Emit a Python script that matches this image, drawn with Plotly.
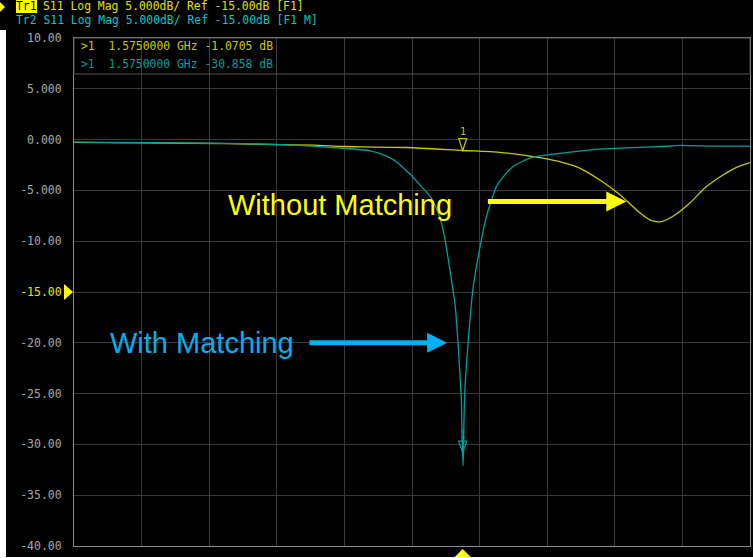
import plotly.graph_objects as go

# S11 sweep, 1-2 GHz, in dB
freq_without = [1.000, 1.100, 1.226, 1.300, 1.354, 1.398, 1.428, 1.493, 1.575,
                1.629, 1.689, 1.720, 1.748, 1.778, 1.808, 1.837, 1.852, 1.867,
                1.886, 1.911, 1.933, 1.956, 1.978, 2.000]
s11_without = [-0.27, -0.33, -0.40, -0.50, -0.55, -0.68, -0.72, -0.78, -1.0705,
               -1.25, -1.78, -2.20, -2.80, -3.98, -5.45, -7.20, -7.90, -8.10,
               -7.55, -6.25, -4.76, -3.65, -2.80, -2.27]

freq_with = [1.000, 1.100, 1.226, 1.300, 1.339, 1.398, 1.438, 1.453, 1.466,
             1.4775, 1.489, 1.501, 1.515, 1.527, 1.535, 1.541, 1.549, 1.556,
             1.564, 1.568, 1.573, 1.574, 1.575, 1.5757, 1.5765, 1.578, 1.583,
             1.590, 1.598, 1.610, 1.625, 1.637, 1.649, 1.675, 1.690, 1.719,
             1.750, 1.778, 1.837, 1.870, 1.896, 1.926, 1.960, 2.000]
s11_with = [-0.25, -0.30, -0.38, -0.48, -0.60, -0.85, -1.10, -1.38, -1.75,
            -2.20, -2.90, -3.65, -4.70, -5.60, -6.60, -7.60, -9.90, -12.8,
            -16.4, -20.0, -25.5, -29.0, -30.858, -32.1, -29.0, -25.0, -20.0,
            -14.8, -11.5, -7.60, -4.60, -3.50, -2.67, -1.80, -1.60, -1.35,
            -1.10, -0.93, -0.76, -0.68, -0.56, -0.62, -0.65, -0.65]

# active marker 1
marker_freq = 1.575
marker_without = -1.0705
marker_with = -30.858

# y scale: 5 dB/div, ref -15 dB
y_ticks = [10, 5, 0, -5, -10, -15, -20, -25, -30, -35, -40]
y_tick_labels = ["10.00", "5.000", "0.000", "-5.000", "-10.00", "-15.00",
                 "-20.00", "-25.00", "-30.00", "-35.00", "-40.00"]
ref_level = -15

trace_tags = ["Tr1", "Tr2"]
header_text = "S11 Log Mag 5.000dB/ Ref -15.00dB"
header_suffix = ["[F1]", "[F1 M]"]
marker_rows = [">1  1.5750000 GHz -1.0705 dB",
               ">1  1.5750000 GHz -30.858 dB"]

YEL = "#C9C900"
CYN = "#009E9E"
MONO = "DejaVu Sans Mono"
FS = 11.4
CW = 0.602 * FS  # monospace advance

W, H = 753, 558
L, R, T, B = 74, 3, 38, 12
PW, PH = W - L - R, H - T - B


def px(x):
    return (x - L) / PW


def py(y):
    return (H - B - y) / PH


fig = go.Figure()
fig.add_trace(go.Scatter(x=freq_without, y=s11_without, mode="lines",
                         line=dict(color=YEL, width=1.3, shape="spline",
                                   smoothing=0.6), hoverinfo="skip"))
fig.add_trace(go.Scatter(x=freq_with, y=s11_with, mode="lines",
                         line=dict(color=CYN, width=1.3, shape="spline",
                                   smoothing=0.5), hoverinfo="skip"))

tick_text = [
    f"<span style='color:#E6E600'>{t}</span>" if v == ref_level else t
    for v, t in zip(y_ticks, y_tick_labels)
]

shapes = []
annotations = []

# marker triangles and labels on the traces
for val, col in [(marker_without, YEL), (marker_with, CYN)]:
    shapes.append(dict(type="path", xref="x", yref="y", xsizemode="pixel",
                       ysizemode="pixel", xanchor=marker_freq, yanchor=val,
                       path="M -4,12 L 4,12 L 0,0 Z",
                       line=dict(color=col, width=1.2), fillcolor="rgba(0,0,0,0)"))
    annotations.append(dict(x=marker_freq, y=val, xref="x", yref="y", text="1",
                            showarrow=False, xanchor="center", yanchor="bottom",
                            yshift=11,
                            font=dict(family=MONO, size=10, color=col)))

# stimulus marker below the grid
shapes.append(dict(type="path", xref="x", yref="paper", xsizemode="pixel",
                   ysizemode="pixel", xanchor=marker_freq, yanchor=0,
                   path="M -8,-11 L 8,-11 L 0,-3 Z", line=dict(width=0),
                   fillcolor="#FFFF00"))
# reference level pointer
shapes.append(dict(type="path", xref="paper", yref="y", xsizemode="pixel",
                   ysizemode="pixel", xanchor=0, yanchor=ref_level,
                   path="M -10,-8 L -1,0 L -10,8 Z", line=dict(width=0),
                   fillcolor="#FFFF00"))
# marker readout box
shapes.append(dict(type="rect", xref="paper", yref="paper",
                   x0=px(74), x1=px(750), y0=py(74), y1=py(38),
                   line=dict(color="#555555", width=1), fillcolor="rgba(0,0,0,0)"))
# light edge on the left and bottom
shapes.append(dict(type="rect", xref="paper", yref="paper", x0=px(0), x1=px(6),
                   y0=py(H), y1=py(30), line=dict(width=0), fillcolor="#FFFFFF"))
shapes.append(dict(type="rect", xref="paper", yref="paper", x0=px(0), x1=px(W),
                   y0=py(H), y1=py(H - 1), line=dict(width=0), fillcolor="#FFFFFF"))
# channel indicator
shapes.append(dict(type="path", xref="paper", yref="paper", xsizemode="pixel",
                   ysizemode="pixel", xanchor=px(0), yanchor=py(7),
                   path="M 0,-5 L 5,0 L 0,5 Z", line=dict(width=0),
                   fillcolor="#FFFF00"))

# header (two status lines)
x_head = 16
head_box = dict(showarrow=False, xanchor="left", yanchor="middle",
                borderwidth=0, borderpad=0, xref="paper", yref="paper")
annotations.append(dict(x=px(x_head), y=py(6), text=trace_tags[0],
                        bgcolor="#FFFF00",
                        font=dict(family=MONO, size=FS, color="#000000"),
                        **head_box))
annotations.append(dict(x=px(x_head + 4 * CW), y=py(6),
                        text=f"{header_text} {header_suffix[0]}",
                        font=dict(family=MONO, size=FS, color="#E0E000"),
                        **head_box))
annotations.append(dict(x=px(x_head), y=py(19.5),
                        text=f"{trace_tags[1]} {header_text} {header_suffix[1]}",
                        font=dict(family=MONO, size=FS, color="#00C8C8"),
                        **head_box))

# marker readout
for row, ypos, col in [(marker_rows[0], 46, YEL), (marker_rows[1], 64, CYN)]:
    annotations.append(dict(x=px(79), y=py(ypos), xref="paper", yref="paper",
                            text=row, showarrow=False, xanchor="left",
                            yanchor="middle",
                            font=dict(family=MONO, size=FS, color=col)))

# callouts
annotations.append(dict(x=px(340), y=py(205), xref="paper", yref="paper",
                        text="Without Matching", showarrow=False,
                        xanchor="center", yanchor="middle",
                        font=dict(family="Liberation Sans", size=29,
                                  color="#FFFF00")))
annotations.append(dict(x=px(202), y=py(343), xref="paper", yref="paper",
                        text="With Matching", showarrow=False,
                        xanchor="center", yanchor="middle",
                        font=dict(family="Liberation Sans", size=29,
                                  color="#00B0F0")))
annotations.append(dict(x=1.817, y=-6.1, ax=1.610, ay=-6.1, xref="x", yref="y",
                        axref="x", ayref="y", text="", showarrow=True,
                        arrowhead=2, arrowsize=0.8, arrowwidth=5,
                        arrowcolor="#FFFF00"))
annotations.append(dict(x=1.552, y=-20.0, ax=1.346, ay=-20.0, xref="x", yref="y",
                        axref="x", ayref="y", text="", showarrow=True,
                        arrowhead=2, arrowsize=0.8, arrowwidth=5,
                        arrowcolor="#00B0F0"))

fig.update_layout(
    width=W, height=H,
    margin=dict(l=L, r=R, t=T, b=B, pad=0),
    paper_bgcolor="#000000", plot_bgcolor="#000000",
    showlegend=False,
    shapes=shapes, annotations=annotations,
    xaxis=dict(range=[1.0, 2.0], dtick=0.1, tick0=1.0, showticklabels=False,
               showgrid=True, gridcolor="#3A3A3A", gridwidth=1, zeroline=False,
               showline=True, linecolor="#8C8C8C", linewidth=1, mirror=True,
               ticks="", fixedrange=True),
    yaxis=dict(range=[-40, 10], tickvals=y_ticks, ticktext=tick_text,
               showgrid=True, gridcolor="#3A3A3A", gridwidth=1, zeroline=False,
               showline=True, linecolor="#8C8C8C", linewidth=1, mirror=True,
               ticks="", ticklabelstandoff=9,
               tickfont=dict(family=MONO, size=11.5, color="#A8A8A8"),
               fixedrange=True),
)

fig.write_html("out.html")
